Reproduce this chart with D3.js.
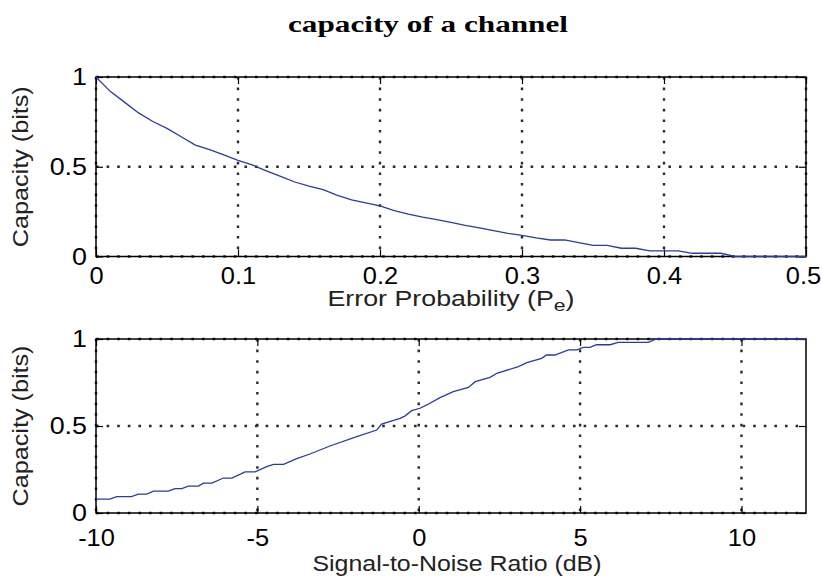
<!DOCTYPE html>
<html>
<head>
<meta charset="utf-8">
<script src="https://cdn.jsdelivr.net/npm/d3@7"></script>
<style>
  body { margin: 0; background: #fff; }
  svg { display: block; }
  .tick text { font-family: "Liberation Sans", Arial, sans-serif; font-size: 24px; fill: #000; }
  .lbl { font-family: "Liberation Sans", Arial, sans-serif; font-size: 21.5px; fill: #222; }
</style>
</head>
<body>
<div class="vis"></div>
<script>
// error probability vs capacity (top panel)
const errProb = [0, 0.01, 0.02, 0.03, 0.04, 0.05, 0.06, 0.07, 0.08, 0.09,
  0.10, 0.11, 0.12, 0.13, 0.14, 0.15, 0.16, 0.17, 0.18, 0.19,
  0.20, 0.21, 0.22, 0.23, 0.24, 0.25, 0.26, 0.27, 0.28, 0.29,
  0.30, 0.31, 0.32, 0.33, 0.34, 0.35, 0.36, 0.37, 0.38, 0.39,
  0.40, 0.41, 0.42, 0.43, 0.44, 0.45, 0.46, 0.47, 0.48, 0.49, 0.50];
const capErr = [1.000, 0.920, 0.860, 0.800, 0.752, 0.714, 0.667, 0.621, 0.595, 0.566,
  0.536, 0.510, 0.477, 0.446, 0.415, 0.392, 0.372, 0.341, 0.315, 0.299,
  0.282, 0.255, 0.236, 0.219, 0.205, 0.190, 0.174, 0.160, 0.144, 0.129,
  0.118, 0.104, 0.092, 0.092, 0.077, 0.062, 0.062, 0.046, 0.046, 0.031,
  0.031, 0.031, 0.018, 0.018, 0.018, 0.000, 0.000, 0.000, 0.000, 0.000, 0.000];

// SNR vs capacity (bottom panel)
const snrDb = [-10, -9.57, -9.36, -8.9, -8.69, -8.43, -8.22, -7.76, -7.55, -7.34,
  -7.14, -6.83, -6.67, -6.41, -6.05, -5.79, -5.38, -5.07, -4.71, -4.5,
  -4.19, -3.78, -3.37, -2.75, -1.92, -1.3, -1.15, -0.58, -0.43, -0.22,
  0.04, 0.25, 0.66, 1.07, 1.54, 1.75, 2.21, 2.42, 3.09, 3.35,
  3.81, 3.96, 4.22, 4.64, 4.9, 5.1, 5.31, 5.51, 5.93, 6.18,
  7.11, 7.37, 12];
const capSnr = [0.080, 0.080, 0.094, 0.094, 0.109, 0.109, 0.126, 0.126, 0.140, 0.140,
  0.155, 0.155, 0.172, 0.172, 0.201, 0.201, 0.236, 0.236, 0.266, 0.280,
  0.280, 0.312, 0.339, 0.385, 0.439, 0.477, 0.511, 0.544, 0.557, 0.588,
  0.602, 0.621, 0.663, 0.697, 0.722, 0.755, 0.780, 0.803, 0.841, 0.864,
  0.889, 0.908, 0.908, 0.937, 0.937, 0.952, 0.952, 0.967, 0.967, 0.981,
  0.981, 1.000, 1.000];

const errTicks = [0, 0.1, 0.2, 0.3, 0.4, 0.5];
const snrTicks = [-10, -5, 0, 5, 10];
const capTicks = [0, 0.5, 1];

const W = 822, H = 578;
const svg = d3.select(".vis").append("svg").attr("width", W).attr("height", H);

// the original output is stretched sideways, so widen glyphs a bit
const stretch = (sel, k) => sel.each(function () {
  const w = this.getComputedTextLength();
  d3.select(this).attr("textLength", w * k).attr("lengthAdjust", "spacingAndGlyphs");
});

svg.append("text")
  .attr("x", 428).attr("y", 32)
  .attr("text-anchor", "middle")
  .attr("textLength", 280).attr("lengthAdjust", "spacingAndGlyphs")
  .style("font-family", "'Liberation Serif', serif")
  .style("font-weight", "bold")
  .style("font-size", "24px")
  .text("capacity of a channel");

const panel = (opt) => {
  const left = 96, right = 806;
  const x = d3.scaleLinear().domain(opt.xDomain).range([left, right]);
  const y = d3.scaleLinear().domain([0, 1]).range([opt.bottom, opt.top]);
  const g = svg.append("g");
  const h = opt.bottom - opt.top;

  // dotted grid
  const grid = g.append("g").attr("stroke", "#2a2a2a").attr("stroke-width", 2.4)
    .attr("stroke-dasharray", "2.6,8");
  grid.selectAll(".gx").data(opt.xTicks).enter().append("line")
    .attr("x1", d => x(d)).attr("x2", d => x(d))
    .attr("y1", opt.top).attr("y2", opt.bottom);
  grid.selectAll(".gy").data(capTicks).enter().append("line")
    .attr("x1", left).attr("x2", right)
    .attr("y1", d => y(d)).attr("y2", d => y(d));

  // frame
  g.append("rect")
    .attr("x", left).attr("y", opt.top)
    .attr("width", right - left).attr("height", h)
    .attr("fill", "none").attr("stroke", "#000").attr("stroke-width", 1.5);

  // axes with inward ticks
  const fmt = d => String(d);
  const xa = g.append("g").attr("transform", "translate(0," + opt.bottom + ")")
    .call(d3.axisBottom(x).tickValues(opt.xTicks).tickFormat(fmt).tickSize(-7).tickPadding(opt.xPad));
  const xt = g.append("g").attr("transform", "translate(0," + opt.top + ")")
    .call(d3.axisTop(x).tickValues(opt.xTicks).tickFormat("").tickSize(-7));
  const ya = g.append("g").attr("transform", "translate(" + left + ",0)")
    .call(d3.axisLeft(y).tickValues(capTicks).tickFormat(fmt).tickSize(-7).tickPadding(9));
  const yr = g.append("g").attr("transform", "translate(" + right + ",0)")
    .call(d3.axisRight(y).tickValues(capTicks).tickFormat("").tickSize(-7));
  [xa, xt, ya, yr].forEach(a => {
    a.select(".domain").remove();
    a.selectAll(".tick line").attr("stroke", "#000").attr("stroke-width", 1.2);
  });
  stretch(xa.selectAll(".tick text"), 1.06);
  stretch(ya.selectAll(".tick text"), 1.12);
  // keep a label sitting on the right edge inside the window
  xa.selectAll(".tick text").filter(d => x(d) > right - 1).attr("dx", -3);

  // curve
  const pts = opt.xs.map((v, i) => [v, opt.ys[i]]);
  g.append("path")
    .datum(pts)
    .attr("fill", "none")
    .attr("stroke", "#2b3b9e")
    .attr("stroke-width", 1.3)
    .attr("d", d3.line().x(d => x(d[0])).y(d => y(d[1])));

  // y label
  g.append("text").attr("class", "lbl")
    .attr("transform", "translate(28," + ((opt.top + opt.bottom) / 2) + ") rotate(-90)")
    .attr("text-anchor", "middle")
    .attr("textLength", 161).attr("lengthAdjust", "spacingAndGlyphs")
    .text("Capacity (bits)");

  return g;
};

panel({ xDomain: [0, 0.5], xTicks: errTicks, top: 77, bottom: 256.5, xPad: 10, xs: errProb, ys: capErr });
const xl = svg.append("text").attr("class", "lbl")
  .attr("x", 451).attr("y", 306).attr("text-anchor", "middle")
  .attr("textLength", 247).attr("lengthAdjust", "spacingAndGlyphs");
xl.append("tspan").text("Error Probability (P");
xl.append("tspan").attr("dy", 5).style("font-size", "17px").text("e");
xl.append("tspan").attr("dy", -5).text(")");

panel({ xDomain: [-10, 12], xTicks: snrTicks, top: 339, bottom: 513, xPad: 15.5, xs: snrDb, ys: capSnr });
svg.append("text").attr("class", "lbl")
  .attr("x", 457).attr("y", 571).attr("text-anchor", "middle")
  .attr("textLength", 289).attr("lengthAdjust", "spacingAndGlyphs")
  .text("Signal-to-Noise Ratio (dB)");
</script>
</body>
</html>
